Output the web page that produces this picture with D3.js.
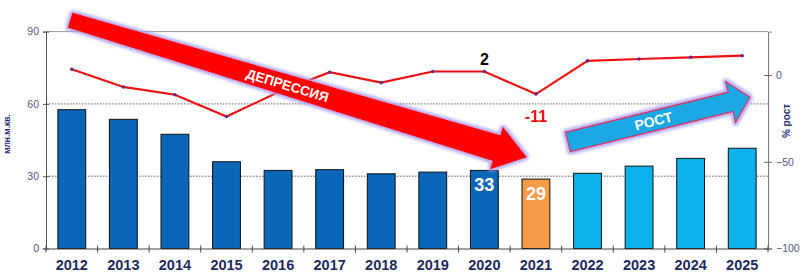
<!DOCTYPE html>
<html>
<head>
<meta charset="utf-8">
<script src="https://cdn.jsdelivr.net/npm/d3@7"></script>
<style>
  body { margin: 0; background: #fff; }
  svg { display: block; font-family: "Liberation Sans", Arial, sans-serif; }
</style>
</head>
<body>
<div id="chart"></div>
<script>
// data
var years = ["2012", "2013", "2014", "2015", "2016", "2017", "2018", "2019", "2020", "2021", "2022", "2023", "2024", "2025"];
var area = [57.6, 53.6, 47.4, 36.0, 32.4, 32.7, 31.0, 31.7, 32.4, 28.8, 31.2, 34.2, 37.4, 41.6];
var growth = [3.3, -6.9, -11.4, -23.9, -10, 1.6, -4.4, 2, 2, -11, 8.1, 9.2, 10.2, 11.1];
var leftTicks = [0, 30, 60, 90];
var rightTicks = [-100, -50, 0];
var barLabels = [{ year: "2020", text: "33" }, { year: "2021", text: "29" }];
var lineLabels = [{ year: "2020", text: "2" }, { year: "2021", text: "-11" }];
// arrows in (category index, left axis value) space
var depressionArrow = { from: [0.465, 94.8], to: [9.327, 37.9], text: "ДЕПРЕССИЯ" };
var growthArrow = { from: [10.12, 44.2], to: [13.65, 62.8], text: "РОСТ" };

function init() {
    var w = 800, h = 276;
    var left = 46, right = 768, top = 31.6, bottom = 248.5;

    var svg = d3.select("#chart").append("svg")
        .attr("width", w)
        .attr("height", h);

    var defs = svg.append("defs");
    var glow = defs.append("filter").attr("id", "glow")
        .attr("x", "-20%").attr("y", "-20%").attr("width", "140%").attr("height", "140%");
    glow.append("feMorphology").attr("in", "SourceAlpha").attr("operator", "dilate").attr("radius", 1.5).attr("result", "d");
    glow.append("feGaussianBlur").attr("in", "d").attr("stdDeviation", 1.8).attr("result", "b");
    glow.append("feFlood").attr("flood-color", "#a99cf0").attr("flood-opacity", 0.85);
    glow.append("feComposite").attr("in2", "b").attr("operator", "in").attr("result", "g");
    var merge = glow.append("feMerge");
    merge.append("feMergeNode").attr("in", "g");
    merge.append("feMergeNode").attr("in", "SourceGraphic");

    var x = d3.scaleBand()
        .domain(years)
        .range([left, right])
        .paddingInner(0.46)
        .paddingOuter(0.23);
    var xi = d3.scaleLinear().domain([0, years.length]).range([left, right]);
    var yL = d3.scaleLinear().domain([0, 90]).range([bottom, top]);
    var yR = d3.scaleLinear().domain([-100, 25]).range([bottom, top]);

    // gridlines
    svg.append("g").selectAll("line")
        .data([30, 60])
        .enter().append("line")
        .attr("x1", left).attr("x2", right)
        .attr("y1", function (d) { return yL(d); })
        .attr("y2", function (d) { return yL(d); })
        .attr("stroke", "#333")
        .attr("stroke-width", 0.8)
        .attr("stroke-dasharray", "1.5,1.5");
    svg.append("line")
        .attr("x1", left).attr("x2", right)
        .attr("y1", yL(90)).attr("y2", yL(90))
        .attr("stroke", "#999").attr("stroke-width", 1);

    // bars
    function barColor(d, i) {
        if (d == "2021") return "#f79a48";
        if (+d > 2021) return "#0cb0ea";
        return "#0a67b8";
    }
    svg.append("g").selectAll("rect")
        .data(years)
        .enter().append("rect")
        .attr("x", function (d) { return x(d); })
        .attr("y", function (d, i) { return yL(area[i]); })
        .attr("width", x.bandwidth())
        .attr("height", function (d, i) { return yL(0) - yL(area[i]); })
        .attr("fill", barColor)
        .attr("stroke", "#111")
        .attr("stroke-width", 1);

    svg.append("g").selectAll("text")
        .data(barLabels)
        .enter().append("text")
        .attr("x", function (d) { return x(d.year) + x.bandwidth() / 2; })
        .attr("y", function (d) { return yL(area[years.indexOf(d.year)]) + 21; })
        .attr("text-anchor", "middle")
        .attr("font-size", "18px")
        .attr("font-weight", "bold")
        .attr("fill", "#fff")
        .text(function (d) { return d.text; });

    // axes
    var axL = svg.append("g").attr("transform", "translate(" + left + ",0)")
        .call(d3.axisLeft(yL).tickValues(leftTicks).tickSize(3).tickPadding(4));
    axL.select(".domain").attr("stroke", "#555");
    axL.selectAll(".tick line").attr("x2", 3).attr("x1", -3).attr("stroke", "#555");
    axL.selectAll("text").attr("font-size", "10.5px").attr("fill", "#55557f")
        .attr("font-family", "Liberation Sans, Arial, sans-serif");

    var axR = svg.append("g").attr("transform", "translate(" + right + ",0)")
        .call(d3.axisRight(yR).tickValues(rightTicks).tickSize(4).tickPadding(4));
    axR.select(".domain").attr("stroke", "#777");
    axR.selectAll(".tick line").attr("x1", -4).attr("stroke", "#666");
    axR.selectAll("text").attr("font-size", "10.5px").attr("fill", "#55557f")
        .attr("font-family", "Liberation Sans, Arial, sans-serif");

    var axB = svg.append("g").attr("transform", "translate(0," + bottom + ")")
        .call(d3.axisBottom(x).tickSize(0).tickPadding(11));
    axB.select(".domain").attr("stroke", "#444").attr("stroke-width", 1.2);
    axB.selectAll("text")
        .attr("font-size", "14.5px").attr("font-weight", "bold").attr("fill", "#1c2a5e")
        .attr("font-family", "Liberation Sans, Arial, sans-serif");
    svg.append("g").selectAll("line")
        .data(d3.range(years.length + 1))
        .enter().append("line")
        .attr("x1", function (d) { return xi(d); })
        .attr("x2", function (d) { return xi(d); })
        .attr("y1", bottom - 3).attr("y2", bottom + 4)
        .attr("stroke", "#444");

    // axis titles
    svg.append("text")
        .attr("transform", "translate(10,134) rotate(-90)")
        .attr("text-anchor", "middle")
        .attr("font-size", "8.5px").attr("font-weight", "bold").attr("fill", "#1f2d78")
        .text("млн.м.кв.");
    svg.append("text")
        .attr("transform", "translate(790,121) rotate(-90)")
        .attr("text-anchor", "middle")
        .attr("font-size", "10px").attr("font-weight", "bold").attr("fill", "#1f2d78")
        .text("% рост");

    // growth line
    var line = d3.line()
        .x(function (d, i) { return x(years[i]) + x.bandwidth() / 2; })
        .y(function (d) { return yR(d); });
    svg.append("path")
        .datum(growth)
        .attr("d", line)
        .attr("fill", "none")
        .attr("stroke", "#ee1111")
        .attr("stroke-width", 2.2);
    svg.append("g").selectAll("circle")
        .data(growth)
        .enter().append("circle")
        .attr("cx", function (d, i) { return x(years[i]) + x.bandwidth() / 2; })
        .attr("cy", function (d) { return yR(d); })
        .attr("r", 1.8)
        .attr("fill", "#6a2a8a");

    // arrows
    function arrowPath(a, w0, w1, hl, hw) {
        var sx = xi(a.from[0]), sy = yL(a.from[1]);
        var tx = xi(a.to[0]), ty = yL(a.to[1]);
        var len = Math.hypot(tx - sx, ty - sy);
        var ux = (tx - sx) / len, uy = (ty - sy) / len;
        var nx = -uy, ny = ux;
        var bx = tx - ux * hl, by = ty - uy * hl;
        var pts = [
            [sx + nx * w0 / 2, sy + ny * w0 / 2],
            [bx + nx * w1 / 2, by + ny * w1 / 2],
            [bx + nx * hw / 2, by + ny * hw / 2],
            [tx, ty],
            [bx - nx * hw / 2, by - ny * hw / 2],
            [bx - nx * w1 / 2, by - ny * w1 / 2],
            [sx - nx * w0 / 2, sy - ny * w0 / 2]
        ];
        return "M" + pts.map(function (p) { return p[0].toFixed(1) + "," + p[1].toFixed(1); }).join("L") + "Z";
    }
    function arrowAngle(a) {
        var sx = xi(a.from[0]), sy = yL(a.from[1]);
        var tx = xi(a.to[0]), ty = yL(a.to[1]);
        return Math.atan2(ty - sy, tx - sx) * 180 / Math.PI;
    }
    function along(a, t) {
        var sx = xi(a.from[0]), sy = yL(a.from[1]);
        var tx = xi(a.to[0]), ty = yL(a.to[1]);
        return [sx + (tx - sx) * t, sy + (ty - sy) * t];
    }

    svg.append("path")
        .attr("d", arrowPath(depressionArrow, 16, 27, 32, 45))
        .attr("fill", "#ff0000")
        .attr("filter", "url(#glow)");
    var pd = along(depressionArrow, 0.476);
    svg.append("text")
        .attr("transform", "translate(" + pd[0] + "," + pd[1] + ") rotate(" + arrowAngle(depressionArrow) + ")")
        .attr("text-anchor", "middle")
        .attr("dy", "0.36em")
        .attr("font-size", "13.5px").attr("font-weight", "bold").attr("fill", "#fff")
        .text(depressionArrow.text);

    svg.append("path")
        .attr("d", arrowPath(growthArrow, 20, 20, 20, 42))
        .attr("fill", "#1ba8e4")
        .attr("stroke", "#e0305e")
        .attr("stroke-width", 1.2)
        .attr("filter", "url(#glow)");
    var pg = along(growthArrow, 0.47);
    svg.append("text")
        .attr("transform", "translate(" + pg[0] + "," + pg[1] + ") rotate(" + arrowAngle(growthArrow) + ")")
        .attr("text-anchor", "middle")
        .attr("dy", "0.36em")
        .attr("font-size", "14px").attr("font-weight", "bold").attr("fill", "#fff")
        .text(growthArrow.text);

    // line labels
    svg.append("g").selectAll("text")
        .data(lineLabels)
        .enter().append("text")
        .attr("x", function (d) { return x(d.year) + x.bandwidth() / 2; })
        .attr("y", function (d) {
            var v = growth[years.indexOf(d.year)];
            return v >= 0 ? yR(v) - 7 : yR(v) + 28;
        })
        .attr("text-anchor", "middle")
        .attr("font-size", "16px").attr("font-weight", "bold")
        .attr("fill", function (d) { return d.text.charAt(0) == "-" ? "#e81010" : "#000"; })
        .text(function (d) { return d.text; });
}

window.onload = init;
</script>
</body>
</html>
